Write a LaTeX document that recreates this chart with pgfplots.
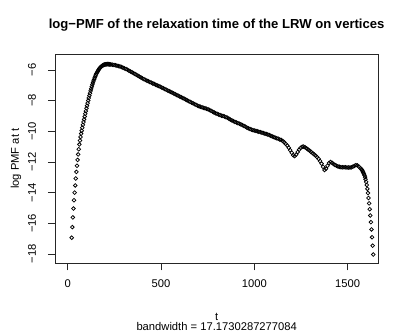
\documentclass[border=0pt]{standalone}
\usepackage{fontspec}
\setmainfont{Liberation Sans}
\usepackage{pgfplots}
\pgfplotsset{compat=1.18}

% log-PMF values, left tail and peak (density grid step ~3.16)
\pgfplotstableread{
t v
21.4 -16.94
24.6 -16.25
27.7 -15.62
30.9 -15.04
34.0 -14.50
37.2 -14.00
40.4 -13.53
43.5 -13.08
46.7 -12.65
49.9 -12.25
53.0 -11.87
56.2 -11.51
59.3 -11.17
62.5 -10.86
65.7 -10.60
68.8 -10.37
72.0 -10.16
75.1 -9.96
78.3 -9.77
81.5 -9.58
84.6 -9.40
87.8 -9.22
91.0 -9.04
94.1 -8.86
97.3 -8.68
100.4 -8.50
103.6 -8.33
106.8 -8.16
109.9 -7.99
113.1 -7.83
116.2 -7.67
119.4 -7.52
122.6 -7.37
125.7 -7.23
128.9 -7.09
132.0 -6.96
135.2 -6.84
138.4 -6.72
141.5 -6.61
144.7 -6.51
147.9 -6.41
151.0 -6.32
154.2 -6.24
157.3 -6.16
160.5 -6.09
163.7 -6.02
166.8 -5.96
170.0 -5.91
173.1 -5.86
176.3 -5.82
179.5 -5.78
182.6 -5.75
185.8 -5.72
189.0 -5.70
192.1 -5.68
195.3 -5.66
198.4 -5.65
201.6 -5.64
204.8 -5.63
207.9 -5.63
211.1 -5.62
214.2 -5.62
217.4 -5.62
220.6 -5.63
223.7 -5.63
226.9 -5.64
}\lefttab

% middle part
\pgfplotstableread{
t v
232 -5.65
240 -5.66
248 -5.68
256 -5.70
264 -5.72
272 -5.75
280 -5.77
288 -5.81
296 -5.85
304 -5.90
312 -5.94
320 -5.99
328 -6.05
336 -6.10
344 -6.15
352 -6.21
360 -6.26
368 -6.32
376 -6.37
384 -6.43
392 -6.49
400 -6.55
408 -6.60
416 -6.65
424 -6.70
432 -6.74
440 -6.79
448 -6.83
456 -6.88
464 -6.92
472 -6.97
480 -7.01
488 -7.05
496 -7.10
504 -7.14
512 -7.19
520 -7.24
528 -7.29
536 -7.34
544 -7.39
552 -7.43
560 -7.48
568 -7.53
576 -7.58
584 -7.63
592 -7.68
600 -7.73
608 -7.78
616 -7.83
624 -7.88
632 -7.93
640 -7.98
648 -8.03
656 -8.08
664 -8.13
672 -8.18
680 -8.23
688 -8.28
696 -8.33
704 -8.37
712 -8.40
720 -8.44
728 -8.47
736 -8.50
744 -8.53
752 -8.57
760 -8.61
768 -8.66
776 -8.72
784 -8.77
792 -8.82
800 -8.86
808 -8.90
816 -8.94
824 -8.98
832 -9.01
840 -9.04
848 -9.08
856 -9.12
864 -9.18
872 -9.24
880 -9.29
888 -9.34
896 -9.39
904 -9.43
912 -9.47
920 -9.51
928 -9.55
936 -9.60
944 -9.65
952 -9.70
960 -9.76
968 -9.81
976 -9.85
984 -9.89
992 -9.92
1000 -9.95
1008 -9.97
1016 -10.00
1024 -10.03
1032 -10.06
1040 -10.09
1048 -10.12
1056 -10.15
1064 -10.18
1072 -10.21
1080 -10.25
1088 -10.29
1096 -10.34
1104 -10.38
1112 -10.42
1120 -10.45
1128 -10.49
1136 -10.53
1144 -10.57
1152 -10.64
1160 -10.72
1168 -10.82
1176 -10.93
1184 -11.07
1192 -11.23
1200 -11.40
1208 -11.56
1216 -11.62
1224 -11.52
1232 -11.35
1240 -11.20
1248 -11.08
1256 -11.01
1264 -11.00
1272 -11.05
1280 -11.12
1288 -11.19
1296 -11.26
1304 -11.35
1312 -11.43
1320 -11.51
1328 -11.59
1336 -11.69
1344 -11.80
1352 -11.94
1360 -12.11
1368 -12.32
1376 -12.52
1384 -12.44
1392 -12.25
1400 -12.07
1408 -12.00
1416 -12.06
1424 -12.14
1432 -12.20
1440 -12.25
1448 -12.29
1456 -12.32
1464 -12.34
1472 -12.35
1480 -12.35
1488 -12.35
1496 -12.36
1504 -12.36
1512 -12.36
1520 -12.35
1528 -12.31
1536 -12.26
1544 -12.21
1552 -12.23
1560 -12.31
1568 -12.41
}\midtab

% right tail
\pgfplotstableread{
t v
1573.9 -12.47
1577.0 -12.53
1580.2 -12.60
1583.3 -12.68
1586.5 -12.77
1589.6 -12.87
1592.8 -12.99
1595.9 -13.13
1599.1 -13.30
1602.2 -13.50
1605.4 -13.75
1608.6 -14.03
1611.7 -14.35
1614.9 -14.70
1618.0 -15.08
1621.2 -15.49
1624.4 -15.93
1627.5 -16.40
1630.7 -16.91
1633.8 -17.46
1637.0 -18.04
}\righttab

\begin{document}
\begin{tikzpicture}
\path (0,0) rectangle (407bp,332bp);
\begin{axis}[
  at={(55bp,68.7bp)}, anchor=south west,
  scale only axis, width=323.3bp, height=209bp,
  xmin=-68, xmax=1664, ymin=-18.61, ymax=-4.98,
  axis line style={line width=0.7bp, black!85},
  tick style={line width=0.7bp, black!85},
  tick align=outside, major tick length=7bp,
  xtick={0,500,1000,1500}, xticklabels={0,500,1000,1500},
  ytick={-18,-16,-14,-12,-10,-8,-6},
  yticklabels={−18,−16,−14,−12,−10,−8,−6},
  xtick pos=bottom, ytick pos=left,
  ticklabel style={font=\fontsize{11.2bp}{13bp}\selectfont, inner sep=0pt},
  xticklabel style={anchor=base}, xticklabel shift=17bp,
  yticklabel style={rotate=90, anchor=base}, yticklabel shift=12bp,
  title={log−PMF of the relaxation time of the LRW on vertices},
  title style={at={(axis description cs:0.5,1)}, anchor=base, yshift=19.5bp,
    inner sep=0pt, font=\fontsize{13.1bp}{16bp}\selectfont\bfseries},
  xlabel={t},
  xlabel style={at={(axis description cs:0.5,-0.2737)}, anchor=base,
    inner sep=0pt, font=\fontsize{11.2bp}{13bp}\selectfont},
  ylabel={log PMF at t},
  ylabel style={at={(axis description cs:-0.1114,0.5)}, anchor=base,
    inner sep=0pt, font=\fontsize{11.2bp}{13bp}\selectfont},
]
\addplot[only marks, mark=o, mark size=1.85bp, mark options={line width=0.75bp, black}] table[x=t, y=v] {\lefttab};
\addplot[only marks, mark=o, mark size=1.85bp, mark options={line width=0.75bp, black}] table[x=t, y=v] {\midtab};
\addplot[only marks, mark=o, mark size=1.85bp, mark options={line width=0.75bp, black}] table[x=t, y=v] {\righttab};
\end{axis}
\node[anchor=base, inner sep=0pt, font=\fontsize{11.2bp}{13bp}\selectfont] at (216.7bp,1.6bp) {bandwidth =  17.1730287277084};
\end{tikzpicture}
\end{document}
